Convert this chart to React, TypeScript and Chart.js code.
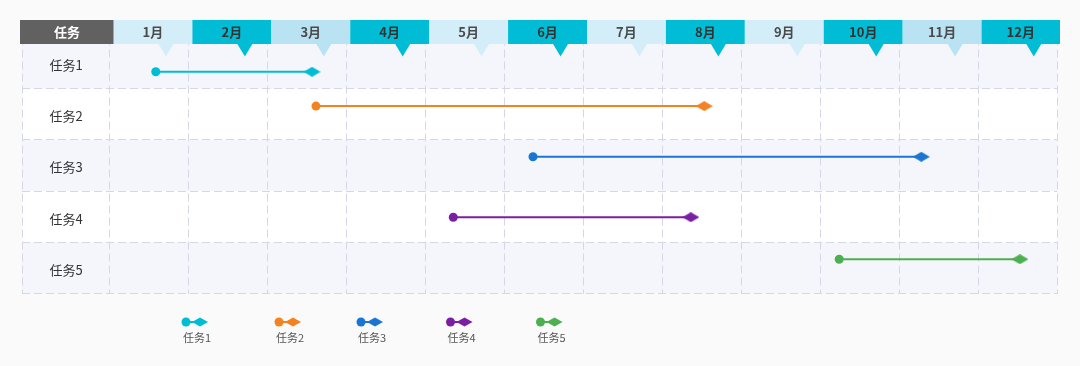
import React, { useEffect, useRef } from 'react';
import { Chart, registerables } from 'chart.js';

Chart.register(...registerables);

// ---- data ----
const months = ['1月', '2月', '3月', '4月', '5月', '6月', '7月', '8月', '9月', '10月', '11月', '12月'];
const monthColors = ['#d4eef9', '#00bcd4', '#b9e2f2', '#00bcd4', '#d4eef9', '#00bcd4', '#d4eef9', '#00bcd4', '#d4eef9', '#00bcd4', '#b9e2f2', '#00bcd4'];
const headerLabel = '任务';
const tasks = ['任务1', '任务2', '任务3', '任务4', '任务5'];
const taskStart = [0.58, 2.61, 5.36, 4.35, 9.24];
const taskEnd = [2.56, 7.53, 10.28, 7.36, 11.53];
const taskRowY = [4.33, 3.66, 2.67, 1.49, 0.67];
const taskColors = ['#00bcd4', '#f58220', '#1976d2', '#7b1fa2', '#4caf50'];

// ---- layout constants ----
const FONT = '"Noto Sans CJK SC", "Noto Sans", sans-serif';
const X_MIN = -1.115;
const legendCenters = [197, 290, 372, 461.5, 551.5];

function makeDiamond(color: string, w = 17, h = 10) {
  const c = document.createElement('canvas');
  c.width = w;
  c.height = h;
  const g = c.getContext('2d')!;
  g.fillStyle = color;
  g.beginPath();
  g.moveTo(0, h / 2);
  g.lineTo(w / 2, 0);
  g.lineTo(w, h / 2);
  g.lineTo(w / 2, h);
  g.closePath();
  g.fill();
  return c;
}

const ganttPlugin = {
  id: 'ganttDecor',
  beforeDraw(chart: any) {
    const { ctx, chartArea, scales } = chart;
    const y = scales.y;
    ctx.save();
    ctx.fillStyle = '#fafafa';
    ctx.fillRect(0, 0, chart.width, chart.height);
    tasks.forEach((_, i) => {
      const top = y.getPixelForValue(5 - i);
      const bot = y.getPixelForValue(4 - i);
      ctx.fillStyle = i % 2 === 0 ? '#f5f6fb' : '#ffffff';
      ctx.fillRect(chartArea.left, top, chartArea.right - chartArea.left, bot - top);
    });
    ctx.restore();
  },
  afterDraw(chart: any) {
    const { ctx, chartArea, scales } = chart;
    const x = scales.x;
    const y = scales.y;
    ctx.save();
    // row labels
    ctx.font = `13px ${FONT}`;
    ctx.fillStyle = '#333';
    ctx.textAlign = 'center';
    ctx.textBaseline = 'middle';
    const labelX = (x.getPixelForValue(X_MIN) + x.getPixelForValue(0)) / 2;
    tasks.forEach((t, i) => {
      ctx.fillText(t, labelX, y.getPixelForValue(4.5 - i) + 2);
    });
    // header
    const hTop = 20;
    const hBot = 44;
    const firstRight = x.getPixelForValue(0) + 4;
    ctx.fillStyle = '#616161';
    ctx.fillRect(chartArea.left - 2, hTop, firstRight - (chartArea.left - 2), hBot - hTop);
    ctx.fillStyle = '#ffffff';
    ctx.font = `bold 13px ${FONT}`;
    ctx.fillText(headerLabel, (chartArea.left - 2 + firstRight) / 2, (hTop + hBot) / 2);
    months.forEach((m, i) => {
      const l = x.getPixelForValue(i) + 3.5;
      const r = x.getPixelForValue(i + 1) + (i === months.length - 1 ? 3 : 3.5);
      const col = monthColors[i];
      ctx.fillStyle = col;
      ctx.fillRect(l, hTop, r - l, hBot - hTop);
      const tc = (l + r) / 2 + 13;
      ctx.beginPath();
      ctx.moveTo(tc - 7.5, hBot);
      ctx.lineTo(tc + 7.5, hBot);
      ctx.lineTo(tc, hBot + 12.5);
      ctx.closePath();
      ctx.fill();
      ctx.fillStyle = col === '#00bcd4' ? '#333333' : '#4a4a4a';
      ctx.font = `bold 13px ${FONT}`;
      ctx.fillText(m, (l + r) / 2, (hTop + hBot) / 2);
    });
    // legend
    tasks.forEach((t, i) => {
      const cx = legendCenters[i];
      const sy = 322;
      const col = taskColors[i];
      ctx.strokeStyle = col;
      ctx.lineWidth = 2;
      ctx.beginPath();
      ctx.moveTo(cx - 11, sy);
      ctx.lineTo(cx + 3, sy);
      ctx.stroke();
      ctx.fillStyle = col;
      ctx.beginPath();
      ctx.arc(cx - 11, sy, 4.5, 0, Math.PI * 2);
      ctx.fill();
      ctx.beginPath();
      ctx.moveTo(cx - 5, sy);
      ctx.lineTo(cx + 3, sy - 4.5);
      ctx.lineTo(cx + 11, sy);
      ctx.lineTo(cx + 3, sy + 4.5);
      ctx.closePath();
      ctx.fill();
      ctx.fillStyle = '#555';
      ctx.font = `11px ${FONT}`;
      ctx.fillText(t, cx, 338);
    });
    ctx.restore();
  },
};

export default function App() {
  const ref = useRef<HTMLCanvasElement>(null);
  useEffect(() => {
    if (!ref.current) return;
    const datasets = tasks.map((t, i) => ({
      label: t,
      data: [
        { x: taskStart[i], y: taskRowY[i] },
        { x: taskEnd[i], y: taskRowY[i] },
      ],
      borderColor: taskColors[i],
      backgroundColor: taskColors[i],
      borderWidth: 2,
      pointStyle: ['circle', makeDiamond(taskColors[i])] as any,
      pointRadius: 4.5,
      pointHoverRadius: 4.5,
      pointBorderWidth: 0,
      pointBackgroundColor: taskColors[i],
    }));
    const gridCommon = { color: '#d3d7e8', lineWidth: 1, drawTicks: false };
    const chart = new Chart(ref.current, {
      type: 'line',
      data: { datasets },
      options: {
        animation: false,
        responsive: false,
        maintainAspectRatio: false,
        devicePixelRatio: 1,
        layout: { padding: { left: 22, right: 23, top: 37.5, bottom: 72.5 } },
        plugins: { legend: { display: false }, tooltip: { enabled: false } },
        scales: {
          x: {
            type: 'linear',
            min: X_MIN,
            max: 12,
            afterBuildTicks: (s: any) => {
              s.ticks = [X_MIN, ...months.map((_, i) => i), 12].map((v) => ({ value: v }));
            },
            ticks: { display: false },
            grid: gridCommon,
            border: { display: false, dash: [8, 4] },
          },
          y: {
            type: 'linear',
            min: 0,
            max: 5,
            ticks: { display: false, stepSize: 1 },
            grid: gridCommon,
            border: { display: false, dash: [8, 4] },
          },
        },
      } as any,
      plugins: [ganttPlugin],
    });
    return () => chart.destroy();
  }, []);
  return (
    <div style={{ position: 'fixed', left: 0, top: 0, width: 1080, height: 366, background: '#fafafa' }}>
      <canvas ref={ref} width={1080} height={366} style={{ width: 1080, height: 366, display: 'block' }} />
    </div>
  );
}
